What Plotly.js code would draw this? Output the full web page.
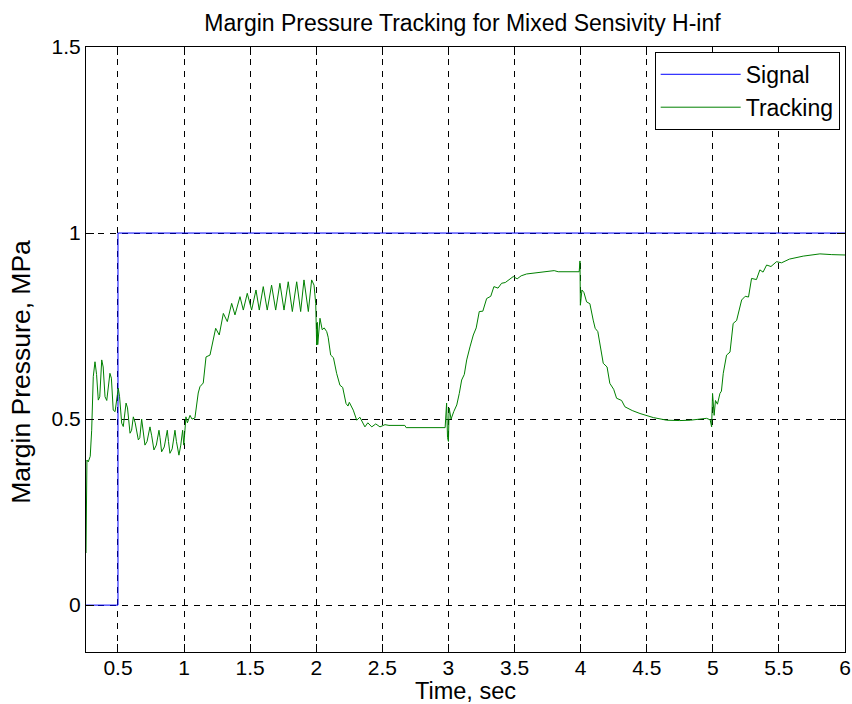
<!DOCTYPE html>
<html>
<head>
<meta charset="utf-8">
<script src="https://cdn.plot.ly/plotly-3.0.1.min.js"></script>
<style>html,body{margin:0;padding:0;background:#fff;}#chart{width:852px;height:704px;}</style>
</head>
<body>
<div id="chart"></div>
<script>
// Signal (reference step)
const signalTime = [0.258, 0.5, 0.5, 6.0];
const signalValue = [0, 0, 1, 1];

// Tracking response
const trackTime = [
0.258,0.262,0.265,0.275,0.29,0.301,0.313,0.326,0.338,0.351,0.362,0.377,0.388,0.402,0.415,0.439,0.450,0.464,0.478,0.502,
0.512,0.528,0.540,0.561,0.572,0.591,0.603,0.616,0.630,0.654,0.665,0.679,0.690,0.704,0.72,0.742,0.755,0.772,0.790,0.810,
0.818,0.830,0.850,0.873,0.882,0.893,0.910,0.931,0.942,0.961,0.975,0.989,0.998,1.014,1.025,1.045,1.06,1.082,1.107,1.12,
1.145,1.166,1.196,1.221,1.239,1.266,1.297,1.327,1.36,1.385,1.423,1.448,1.478,1.511,1.544,1.569,1.599,1.629,1.662,1.693,
1.725,1.756,1.788,1.819,1.852,1.882,1.907,1.94,1.965,1.983,1.996,2.003,2.008,2.011,2.028,2.045,2.06,2.079,2.09,2.109,
2.13,2.154,2.179,2.2,2.225,2.24,2.25,2.28,2.306,2.33,2.368,2.39,2.42,2.45,2.482,2.52,2.55,2.67,2.68,2.975,
2.986,2.993,3.0,3.005,3.02,3.04,3.063,3.082,3.1,3.12,3.138,3.163,3.188,3.21,3.233,3.26,3.289,3.32,3.344,3.375,
3.402,3.43,3.46,3.49,3.52,3.55,3.591,3.65,3.705,3.80,3.83,3.989,3.995,3.998,4.01,4.025,4.045,4.07,4.095,4.11,
4.13,4.146,4.171,4.2,4.221,4.25,4.272,4.31,4.335,4.39,4.449,4.55,4.651,4.75,4.83,4.953,4.98,4.991,4.998,5.01,
5.02,5.035,5.054,5.065,5.079,5.104,5.13,5.154,5.18,5.218,5.245,5.27,5.293,5.33,5.356,5.38,5.407,5.44,5.482,5.52,
5.58,5.684,5.81,5.9,6.0
];
const trackValue = [
0.14,0.35,0.39,0.385,0.40,0.47,0.614,0.654,0.62,0.551,0.56,0.659,0.64,0.56,0.55,0.623,0.61,0.524,0.52,0.583,
0.56,0.489,0.48,0.543,0.53,0.462,0.47,0.506,0.49,0.444,0.45,0.50,0.47,0.43,0.44,0.479,0.455,0.417,0.43,0.47,
0.45,0.412,0.425,0.47,0.44,0.408,0.42,0.47,0.44,0.403,0.43,0.47,0.43,0.506,0.49,0.51,0.50,0.503,0.57,0.587,
0.597,0.667,0.672,0.712,0.744,0.726,0.784,0.762,0.811,0.780,0.829,0.793,0.838,0.793,0.847,0.793,0.856,0.793,0.860,0.793,
0.865,0.793,0.869,0.789,0.869,0.789,0.874,0.789,0.874,0.86,0.81,0.699,0.76,0.70,0.771,0.74,0.745,0.735,0.72,0.672,
0.665,0.623,0.591,0.585,0.542,0.535,0.545,0.524,0.497,0.505,0.479,0.49,0.479,0.487,0.479,0.485,0.483,0.483,0.477,0.477,
0.543,0.45,0.44,0.53,0.50,0.52,0.538,0.569,0.605,0.62,0.659,0.694,0.726,0.745,0.789,0.79,0.824,0.83,0.856,0.852,
0.865,0.867,0.875,0.883,0.877,0.885,0.89,0.893,0.896,0.899,0.896,0.896,0.925,0.806,0.847,0.84,0.815,0.81,0.766,0.744,
0.735,0.703,0.65,0.64,0.596,0.58,0.556,0.55,0.533,0.523,0.515,0.504,0.497,0.496,0.497,0.502,0.498,0.479,0.569,0.51,
0.55,0.54,0.569,0.575,0.623,0.672,0.68,0.757,0.765,0.82,0.83,0.828,0.878,0.875,0.901,0.895,0.914,0.91,0.923,0.92,
0.93,0.938,0.944,0.942,0.941
];

const xTickVals = [0.5,1,1.5,2,2.5,3,3.5,4,4.5,5,5.5,6];
const xTickText = ['0.5','1','1.5','2','2.5','3','3.5','4','4.5','5','5.5','6'];
const yTickVals = [0,0.5,1,1.5];
const yTickText = ['0','0.5','1','1.5'];

const FONT = 'Liberation Sans, Arial, Helvetica, sans-serif';

const traces = [
  {x: signalTime, y: signalValue, type: 'scatter', mode: 'lines', name: 'Signal',
   line: {color: '#0000ff', width: 1}},
  {x: trackTime, y: trackValue, type: 'scatter', mode: 'lines', name: 'Tracking',
   line: {color: '#008000', width: 1}}
];

const axisCommon = {
  showline: true, linecolor: '#000', linewidth: 1, mirror: 'ticks',
  ticks: 'inside', ticklen: 8, tickcolor: '#000', tickwidth: 1,
  showgrid: true, gridcolor: '#000', gridwidth: 1, griddash: '6px,6px',
  zeroline: false, tickfont: {family: FONT, size: 21, color: '#000'}
};

const layout = {
  width: 852, height: 704,
  paper_bgcolor: '#fff', plot_bgcolor: '#fff',
  margin: {l: 86, r: 7, t: 47, b: 52},
  font: {family: FONT, color: '#000'},
  title: {text: 'Margin Pressure Tracking for Mixed Sensivity H-inf',
          font: {family: FONT, size: 23, color: '#000'}, xref: 'paper', x: 0.496, xanchor: 'center', y: 0.968, yanchor: 'middle'},
  xaxis: Object.assign({}, axisCommon, {
    range: [0.258, 6], tickmode: 'array', tickvals: xTickVals, ticktext: xTickText,
    ticklabelstandoff: -3
  }),
  yaxis: Object.assign({}, axisCommon, {
    range: [-0.126, 1.5], tickmode: 'array', tickvals: yTickVals, ticktext: yTickText
  }),
  annotations: [{
    text: 'Margin Pressure, MPa', textangle: -90, showarrow: false,
    xref: 'paper', yref: 'paper', x: -0.085, y: 0.464, xanchor: 'center', yanchor: 'middle',
    font: {family: FONT, size: 26.5, color: '#000'}
  }, {
    text: 'Time, sec', showarrow: false,
    xref: 'paper', yref: 'paper', x: 0.5, y: -0.0645, xanchor: 'center', yanchor: 'middle',
    font: {family: FONT, size: 23.5, color: '#000'}
  }],
  legend: {x: 0.993, y: 0.992, xanchor: 'right', yanchor: 'top',
           bgcolor: '#fff', bordercolor: '#000', borderwidth: 1,
           font: {family: FONT, size: 23, color: '#000'}, itemwidth: 80, tracegroupgap: 0},
  showlegend: true
};

Plotly.newPlot('chart', traces, layout, {displayModeBar: false, staticPlot: true});
</script>
</body>
</html>
